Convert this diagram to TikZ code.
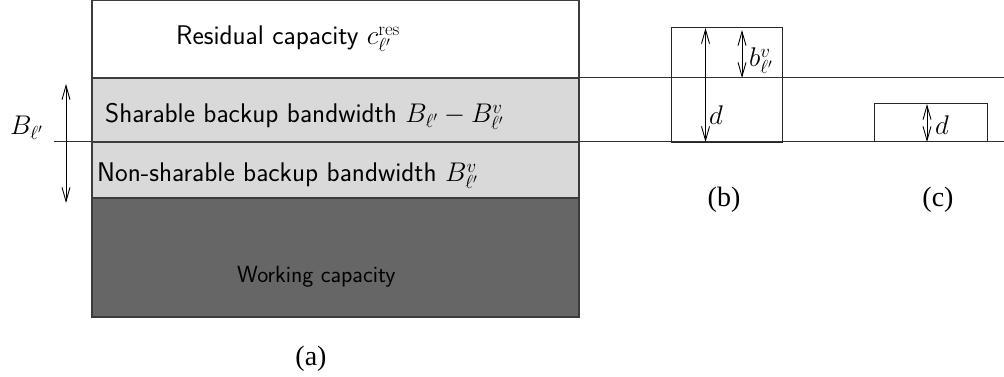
\documentclass[tikz,border=0pt]{standalone}
\usepackage{fix-cm}
\usepackage{fontspec}
\newfontfamily\capfont{Liberation Serif}
\usetikzlibrary{arrows.meta}
\definecolor{sharegray}{HTML}{D9D9D9}
\definecolor{workgray}{HTML}{666666}
\definecolor{edgegray}{HTML}{3C3C3C}
\begin{document}
\begin{tikzpicture}[x=1pt,y=-1pt,
  layer/.style={draw=edgegray, line width=1.3pt, minimum width=487pt, inner sep=0pt, outer sep=0pt, anchor=north west},
  slot/.style={draw=black!85, line width=1pt, inner sep=0pt, outer sep=0pt, anchor=north west},
  lbl/.style={font=\sffamily\fontsize{27}{32}\selectfont, inner sep=0pt, anchor=base west},
  smalllbl/.style={font=\sffamily\fontsize{23.4}{28}\selectfont, inner sep=0pt, anchor=base west},
  mlbl/.style={font=\fontsize{27}{32}\selectfont, inner sep=0pt, anchor=base west},
  sublabel/.style={font=\capfont\fontsize{28}{32}\selectfont, inner sep=0pt, anchor=base},
  dim/.style={{Straight Barb[length=14pt,width=8pt]}-{Straight Barb[length=14pt,width=8pt]}, line width=0.9pt},
  rule/.style={line width=1pt, draw=black!80}]
\useasboundingbox (0,0) rectangle (1004,377);

% reference levels
\coordinate (r1a) at (579,78);
\coordinate (r1b) at (1004,78);
\coordinate (r2a) at (54,142);
\coordinate (r2b) at (1004,142);
\draw[rule] (r1a) -- (r1b);
\draw[rule] (r2a) -- (r2b);

% (a) capacity stack of link l'
\node[layer, minimum height=78pt] (res) at (92,0) {};
\node[layer, fill=sharegray, minimum height=64pt] (share) at (92,78) {};
\node[layer, fill=sharegray, minimum height=56pt] (nonshare) at (92,142) {};
\node[layer, fill=workgray, minimum height=119pt] (work) at (92,198) {};

\node[lbl] (restxt) at (176,45) {Residual capacity $c^{\mathrm{res}}_{\ell'}$};
\node[lbl] (sharetxt) at (105,123) {Sharable backup bandwidth $B_{\ell'}-B^{v}_{\ell'}$};
\node[lbl] (nonsharetxt) at (97,182) {Non-sharable backup bandwidth $B^{v}_{\ell'}$};
\node[smalllbl] (worktxt) at (237,282) {Working capacity};

\coordinate (Btop) at (66,84);
\coordinate (Bbot) at (66,203);
\draw[dim] (Btop) -- (Bbot);
\node[mlbl] (Blbl) at (10,135) {$B_{\ell'}$};

\node[sublabel] (capa) at (311,365) {(a)};

% (b) demand exceeding the sharable part
\node[slot, minimum width=111pt, minimum height=115pt] (bbox) at (671,28) {};
\coordinate (bdtop) at (705.5,28);
\coordinate (bdbot) at (705.5,142);
\draw[dim] (bdtop) -- (bdbot);
\node[mlbl] (bdlbl) at (709,125) {$d$};
\coordinate (bbtop) at (742,30);
\coordinate (bbbot) at (742,78);
\draw[dim] (bbtop) -- (bbbot);
\node[mlbl] (bblbl) at (749,67) {$b^{v}_{\ell'}$};
\node[sublabel] (capb) at (724,206) {(b)};

% (c) demand within the sharable part
\node[slot, minimum width=113pt, minimum height=38pt] (cbox) at (874,104) {};
\coordinate (cdtop) at (927,104);
\coordinate (cdbot) at (927,142);
\draw[dim] (cdtop) -- (cdbot);
\node[mlbl] (cdlbl) at (935,135) {$d$};
\node[sublabel] (capc) at (938,206) {(c)};
\end{tikzpicture}
\end{document}
